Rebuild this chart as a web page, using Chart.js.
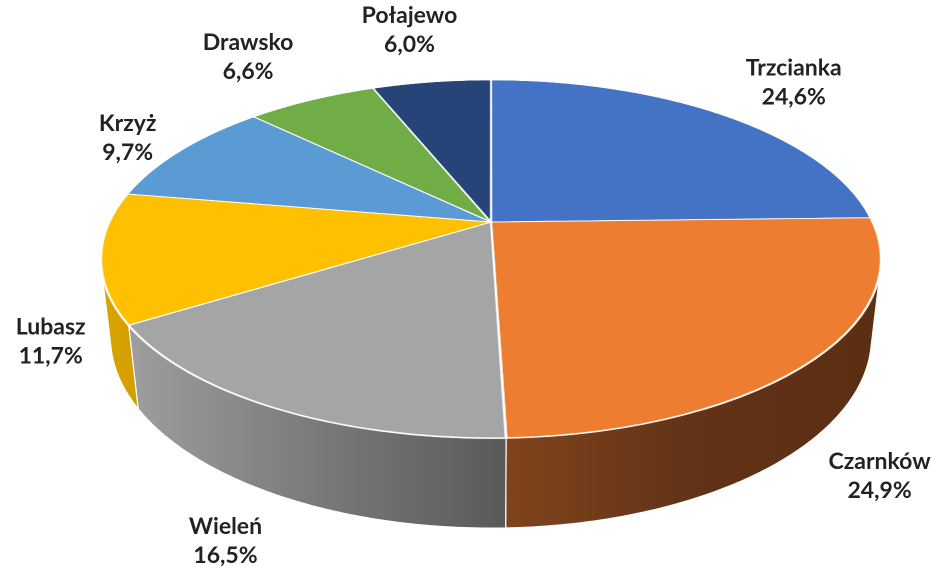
<!DOCTYPE html>
<html>
<head>
<meta charset="utf-8">
<script src="https://cdn.jsdelivr.net/npm/chart.js@4"></script>
<style>
  html, body { margin: 0; background: #fff; }
  canvas { display: block; }
</style>
</head>
<body>
<canvas id="chart" width="936" height="574"></canvas>
<script>
const categories = ['Trzcianka', 'Czarnków', 'Wieleń', 'Lubasz', 'Krzyż', 'Drawsko', 'Połajewo'];
const shares = [24.6, 24.9, 16.5, 11.7, 9.7, 6.6, 6.0];

const topColors = ['#4472C4', '#ED7D31', '#A5A5A5', '#FFC000', '#5B9BD5', '#70AD47', '#264478'];
// side wall shading, left -> right on screen
const wallColors = [
    ['#2F5597', '#203864'],
    ['#80441C', '#623318', '#5C2E12'],
    ['#9E9E9E', '#7A7A7A', '#5A5A5A'],
    ['#DAA400', '#D49E00'],
    ['#41719C', '#2E5475'],
    ['#507E32', '#3B5E25'],
    ['#1B3157', '#142440']
];

// perspective camera fitted to the 3d pie in the picture
const X0 = 491, Y0 = 222;      // where the pie centre lands
const A = 381.6;               // half width of top face at the centre row
const tilt = Math.asin(171.4 / 381.6);
const L = 4.32;                // camera distance in pie radii
const H = 0.231;               // pie thickness in pie radii
const F = A * L, cosT = Math.cos(tilt), sinT = Math.sin(tilt);
const C = cosT / L, B = A * sinT;

function project(u, v, h) {
    const w = L - v * cosT - h * sinT;
    return { x: X0 + F * u / w, y: Y0 + F * (v * sinT - h * cosT) / w };
}

function vOf(y) {
    return (y - Y0) / (B + C * (y - Y0));
}

function drawWalls(ctx, arcs) {
    const lo = Math.asin(1 / (L * cosT)), hi = Math.PI - lo;
    arcs.forEach((arc, i) => {
        const a = Math.max(arc.startAngle, lo), b = Math.min(arc.endAngle, hi);
        if (b <= a) return;
        const n = Math.max(2, Math.ceil((b - a) / 0.01));
        const top = [], bot = [];
        for (let k = 0; k <= n; k++) {
            const t = a + (b - a) * k / n;
            top.push(project(Math.cos(t), Math.sin(t), 0));
            bot.push(project(Math.cos(t), Math.sin(t), -H));
        }
        const xs = top.concat(bot).map(p => p.x);
        const g = ctx.createLinearGradient(Math.min(...xs), 0, Math.max(...xs), 0);
        const stops = wallColors[i];
        stops.forEach((col, k) => g.addColorStop(k / (stops.length - 1), col));
        ctx.beginPath();
        top.forEach((p, k) => k ? ctx.lineTo(p.x, p.y) : ctx.moveTo(p.x, p.y));
        for (let k = bot.length - 1; k >= 0; k--) ctx.lineTo(bot[k].x, bot[k].y);
        ctx.closePath();
        ctx.fillStyle = g;
        ctx.fill();
        ctx.strokeStyle = '#fff';
        ctx.lineWidth = 1.2;
        ctx.stroke();
    });
}

const pie3d = {
    id: 'pie3d',
    afterDatasetsDraw(chart) {
        const canvas = chart.canvas, ctx = chart.ctx;
        const dpr = chart.currentDevicePixelRatio;
        const arcs = chart.getDatasetMeta(0).data;
        const cx = arcs[0].x, cy = arcs[0].y, R = arcs[0].outerRadius;

        // flat pie as drawn by chart.js
        const snap = document.createElement('canvas');
        snap.width = canvas.width;
        snap.height = canvas.height;
        snap.getContext('2d').drawImage(canvas, 0, 0);

        ctx.save();
        ctx.setTransform(1, 0, 0, 1, 0, 0);
        ctx.clearRect(0, 0, canvas.width, canvas.height);

        ctx.setTransform(dpr, 0, 0, dpr, 0, 0);
        drawWalls(ctx, arcs);

        // tilt the top face row by row
        ctx.setTransform(1, 0, 0, 1, 0, 0);
        ctx.imageSmoothingEnabled = true;
        ctx.imageSmoothingQuality = 'high';
        const m = 1.03;
        const yTop = Math.floor(project(0, -m, 0).y * dpr);
        const yBot = Math.ceil(project(0, m, 0).y * dpr);
        for (let yd = yTop; yd < yBot; yd++) {
            const v0 = vOf(yd / dpr), v1 = vOf((yd + 1) / dpr), vm = vOf((yd + 0.5) / dpr);
            const half = m * A / (1 - C * vm);
            ctx.drawImage(snap,
                (cx - m * R) * dpr, (cy + R * v0) * dpr, 2 * m * R * dpr, R * (v1 - v0) * dpr,
                (X0 - half) * dpr, yd, 2 * half * dpr, 1);
        }
        ctx.restore();
    },
    afterDraw(chart) {
        const ctx = chart.ctx;
        const arcs = chart.getDatasetMeta(0).data;
        const lineH = 29;
        ctx.save();
        ctx.font = 'bold 23px Lato';
        ctx.fillStyle = '#222';
        ctx.textAlign = 'center';
        ctx.textBaseline = 'middle';
        arcs.forEach((arc, i) => {
            const mid = (arc.startAngle + arc.endAngle) / 2;
            const u = Math.cos(mid), v = Math.sin(mid);
            const rim = project(u, v, 0);
            const anchor = v > 0 ? project(u, v, -H) : rim;
            let dx = rim.x - X0, dy = rim.y - Y0;
            const len = Math.hypot(dx, dy);
            dx /= len; dy /= len;
            const lines = [categories[i], shares[i].toFixed(1).replace('.', ',') + '%'];
            const w = Math.max(...lines.map(t => ctx.measureText(t).width));
            const h = lineH * lines.length;
            const ext = Math.min(
                Math.abs(dx) > 1e-6 ? w / 2 / Math.abs(dx) : Infinity,
                Math.abs(dy) > 1e-6 ? h / 2 / Math.abs(dy) : Infinity);
            const x = anchor.x + dx * (ext + 25), y = anchor.y + dy * (ext + 25);
            lines.forEach((t, k) => ctx.fillText(t, x, y + (k - (lines.length - 1) / 2) * lineH));
        });
        ctx.restore();
    }
};

new Chart(document.getElementById('chart'), {
    type: 'pie',
    data: {
        labels: categories,
        datasets: [{
            data: shares,
            backgroundColor: topColors,
            borderColor: '#fff',
            borderWidth: 1.5,
            radius: 270
        }]
    },
    options: {
        responsive: false,
        animation: false,
        devicePixelRatio: 2,
        plugins: {
            legend: { display: false },
            tooltip: { enabled: false }
        }
    },
    plugins: [pie3d]
});
</script>
</body>
</html>
